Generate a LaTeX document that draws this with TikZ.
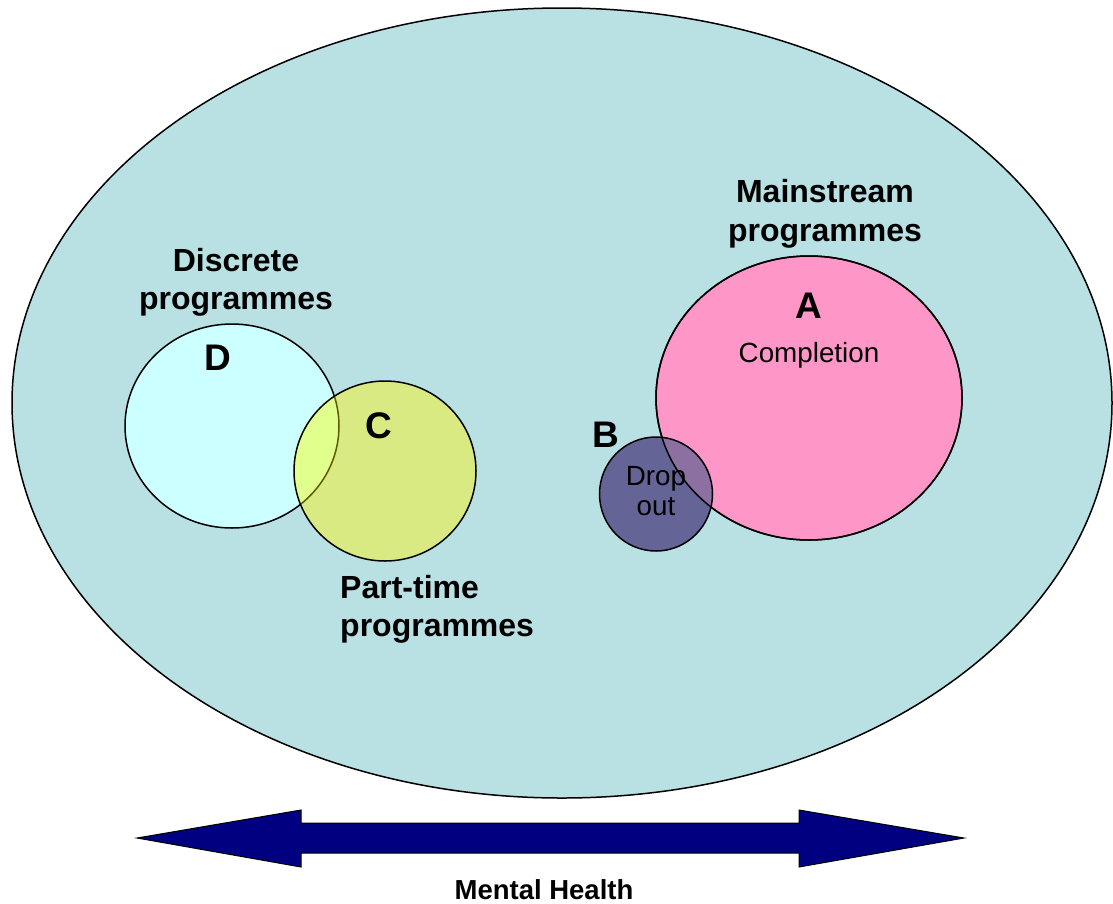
\documentclass[tikz,border=0pt]{standalone}
\usepackage{fontspec}
\setmainfont{Liberation Sans}
\usetikzlibrary{shapes.geometric}
\definecolor{bgc}{RGB}{185,224,227}
\definecolor{dcol}{RGB}{204,255,255}
\definecolor{ccol}{RGB}{218,234,130}
\definecolor{dccol}{RGB}{224,255,140}
\definecolor{acol}{RGB}{255,150,200}
\definecolor{bcol}{RGB}{100,100,150}
\definecolor{abcol}{RGB}{140,112,162}
\definecolor{navyc}{RGB}{0,0,128}
\definecolor{olivec}{RGB}{95,90,0}
\begin{document}
\begin{tikzpicture}[x=1pt,y=-1pt,
  blob/.style={ellipse, draw=black, line width=1.5pt, inner sep=0pt, outer sep=0pt},
  lbl/.style={font=\fontsize{32}{38.5}\selectfont\bfseries, align=center, inner sep=0pt},
  letter/.style={font=\fontsize{37}{40}\selectfont\bfseries, inner sep=0pt, anchor=base},
  small/.style={font=\fontsize{27.8}{30}\selectfont, inner sep=0pt, align=center}]
\useasboundingbox (0,0) rectangle (1113,903);
% world
\node[blob, fill=bgc, minimum width=1100pt, minimum height=790pt] (world) at (562,403) {};
% D and C
\node[blob, fill=dcol, minimum width=214pt, minimum height=204pt] (D) at (232,426) {};
\node[blob, draw=none, fill=ccol, minimum width=182pt, minimum height=180pt] (C) at (385,471) {};
\begin{scope}
  \clip (D.center) ellipse [x radius=107, y radius=102];
  \fill[dccol] (C.center) ellipse [x radius=91, y radius=90];
\end{scope}
\begin{scope}
  \clip (C.center) ellipse [x radius=91, y radius=90];
  \draw[olivec, line width=1.5pt] (D.center) ellipse [x radius=107, y radius=102];
\end{scope}
\draw[line width=1.5pt] (C.center) ellipse [x radius=91, y radius=90];
% A and B
\node[blob, fill=acol, minimum width=306pt, minimum height=284pt] (A) at (809,398) {};
\node[blob, draw=none, fill=bcol, minimum width=113pt, minimum height=114pt] (B) at (656,494) {};
\begin{scope}
  \clip (A.center) ellipse [x radius=153, y radius=142];
  \fill[abcol] (B.center) ellipse [x radius=56.5, y radius=57];
\end{scope}
\draw[line width=1.5pt] (A.center) ellipse [x radius=153, y radius=142];
\draw[line width=1.5pt] (B.center) ellipse [x radius=56.5, y radius=57];
% labels
\node[lbl] (ldisc) at (236,282.5) {Discrete\\programmes};
\node[lbl] (lmain) at (825,214) {Mainstream\\programmes};
\node[lbl, align=left, anchor=west] (lpart) at (340,609.5) {Part-time\\programmes};
\node[letter] (tA) at (809,318) {A};
\node[letter] (tB) at (606,447) {B};
\node[letter] (tC) at (379,438) {C};
\node[letter] (tD) at (218,370) {D};
\node[small, anchor=base] (tcomp) at (809,362) {Completion};
\node[small] (tdrop) at (656,491) {Drop\\out};
% arrow
\coordinate (ltip) at (137,838);
\coordinate (rtip) at (964,838);
\draw[fill=navyc, line width=1pt, line join=miter] (ltip) -- (301,810) -- (301,823) -- (799,823) -- (799,810) -- (rtip) -- (799,867) -- (799,853) -- (301,853) -- (301,867) -- cycle;
\node[font=\fontsize{27.5}{30}\selectfont\bfseries, inner sep=0pt, anchor=base] (tmh) at (544,899) {Mental Health};
\end{tikzpicture}
\end{document}
